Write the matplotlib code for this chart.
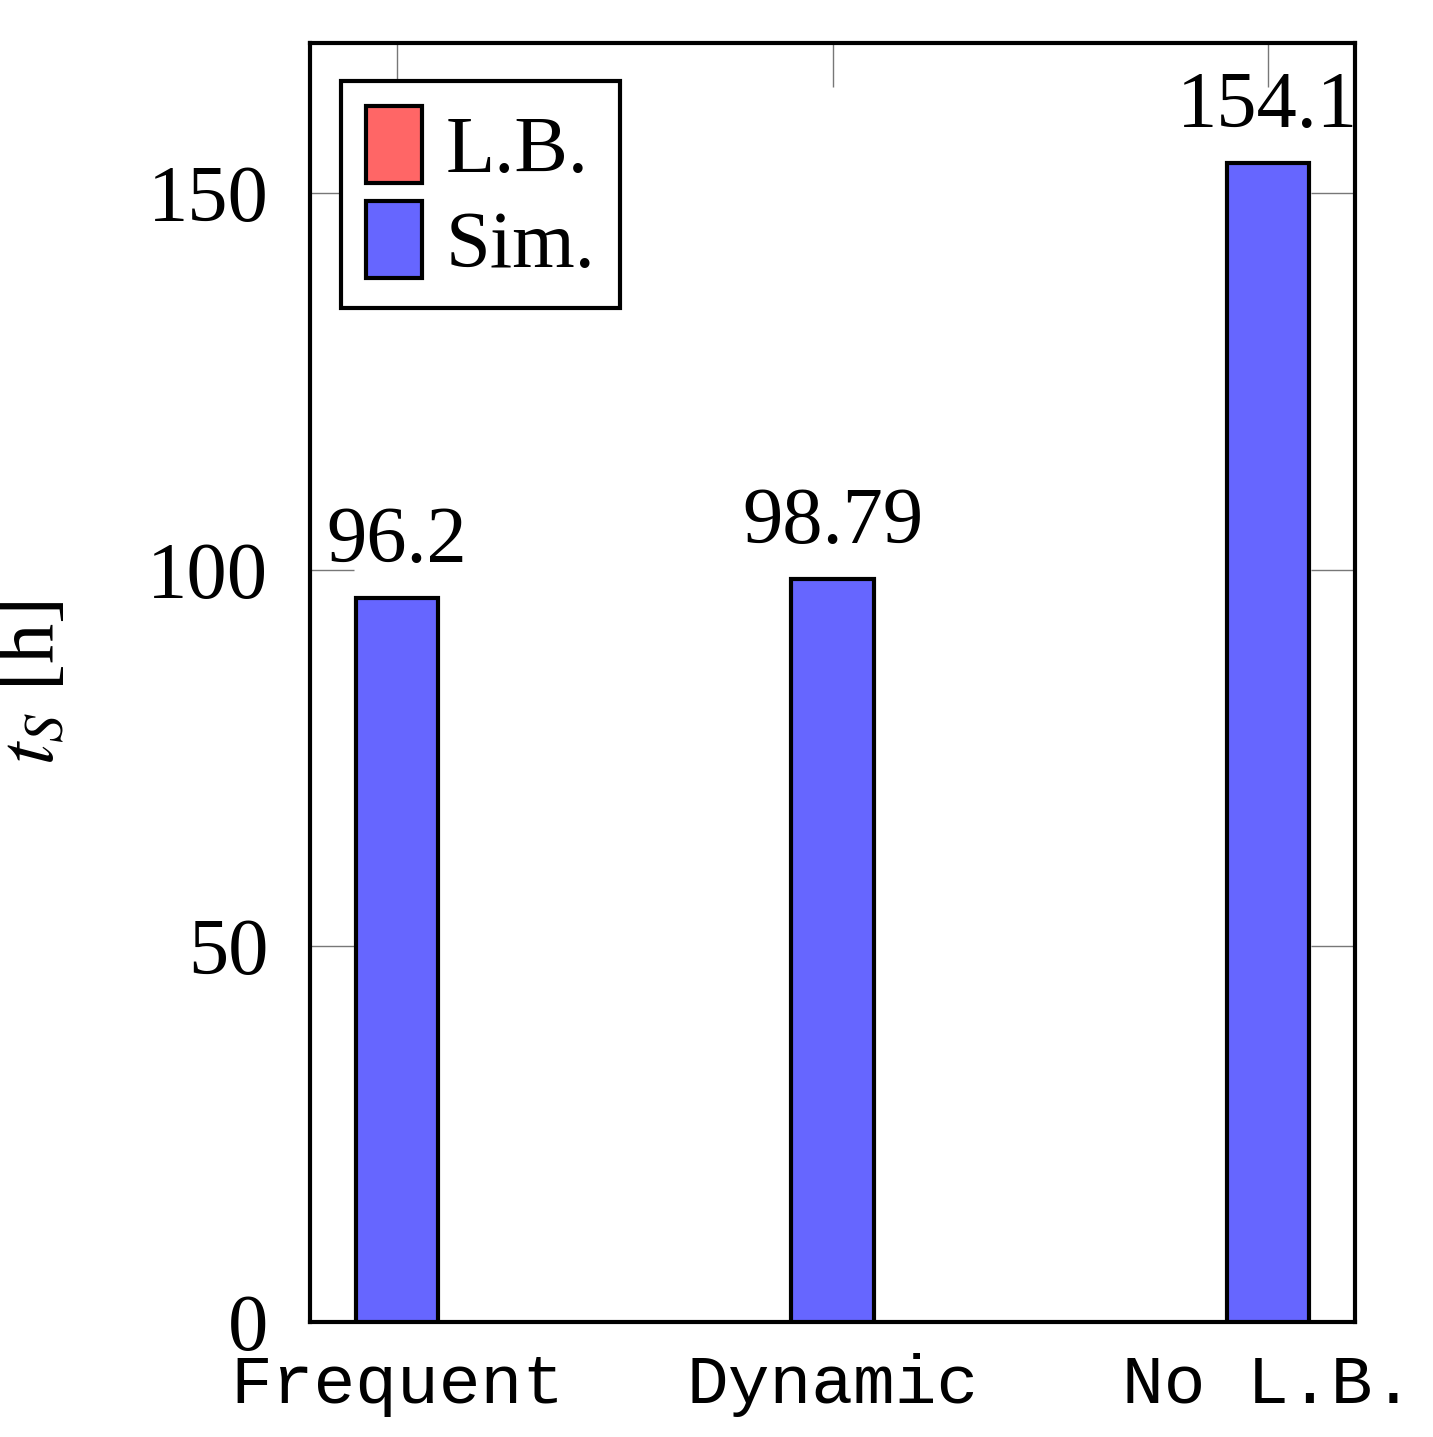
import matplotlib
matplotlib.use("Agg")
import matplotlib.pyplot as plt
from matplotlib.patches import Patch

plt.rcParams["mathtext.fontset"] = "stix"

categories = ["Frequent", "Dynamic", "No L.B."]
sim_values = [96.2, 98.79, 154.1]
sim_labels = ["96.2", "98.79", "154.1"]
yticks = [0, 50, 100, 150]

fig = plt.figure(figsize=(14.33, 14.37), dpi=100)
ax = fig.add_axes([310/1433, 1-1322/1437, 1045/1433, 1279/1437])
x = list(range(len(categories)))
ax.bar(x, sim_values, width=0.19, color="#6666FF", edgecolor="black", linewidth=3, zorder=3)
for xi, v, lab in zip(x, sim_values, sim_labels):
    ax.text(xi, v + 2.5, lab, ha="center", va="bottom", fontsize=58, family="Liberation Serif")
ax.set_xlim(-0.2, 2.2)
ax.set_ylim(0, 170)
ax.set_xticks(x)
ax.set_xticklabels(categories, family="Liberation Mono", fontsize=50)
ax.set_yticks(yticks)
ax.set_yticklabels([str(t) for t in yticks], family="Liberation Serif", fontsize=58)
ax.tick_params(direction="in", length=32, width=1, color="#777777", top=True, right=True)
ax.tick_params(axis="x", pad=22)
ax.tick_params(axis="y", pad=30)
for s in ax.spines.values():
    s.set_linewidth(3)
ax.set_ylabel(r"$t_S$ [h]", fontsize=58, family="Liberation Serif", labelpad=55)
handles = [Patch(facecolor="#FF6666", edgecolor="black", linewidth=3, label="L.B."),
           Patch(facecolor="#6666FF", edgecolor="black", linewidth=3, label="Sim.")]
leg = ax.legend(handles=handles, loc="upper left", bbox_to_anchor=(0.03, 0.97),
                prop={"family": "Liberation Serif", "size": 58}, fancybox=False,
                framealpha=1, edgecolor="black", handlelength=0.7, handleheight=1.1,
                handletextpad=0.3, borderpad=0.3, labelspacing=0.15, borderaxespad=0)
leg.get_frame().set_linewidth(3)
fig.savefig("out.png", dpi=100)
